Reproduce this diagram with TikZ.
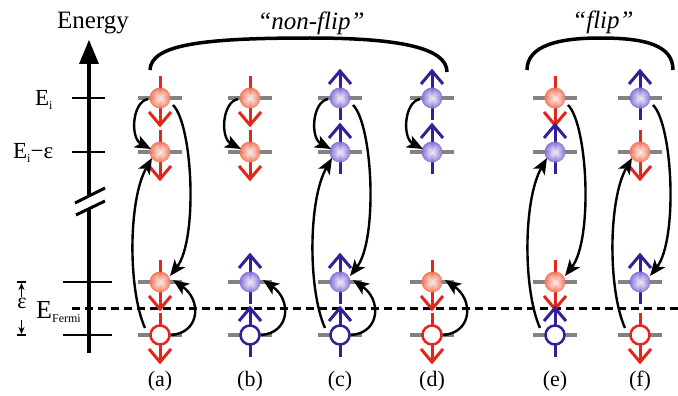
\documentclass[tikz,border=0pt]{standalone}
\usepackage{fontspec}
\setmainfont{Liberation Serif}
\usetikzlibrary{arrows.meta,calc}

\definecolor{spinred}{RGB}{226,38,28}
\definecolor{spinblue}{RGB}{52,32,150}
\definecolor{ballred}{RGB}{242,112,80}
\definecolor{ballblue}{RGB}{130,105,215}
\definecolor{levelgrey}{RGB}{130,130,130}

\tikzset{
  spinline/.style={line width=3pt, line cap=butt, line join=miter},
  levelbar/.style={levelgrey, line width=4.5pt},
  tick/.style={line width=2pt},
  fermi/.style={line width=3pt, dash pattern=on 8pt off 5pt},
  hop/.style={line width=2.4pt, -{Stealth[length=16pt,width=13pt,inset=4pt]}},
  electron/.style={circle, minimum size=21pt, inner sep=0pt},
  redball/.style={electron, inner color=white, outer color=ballred, fill opacity=0.92},
  blueball/.style={electron, inner color=white, outer color=ballblue, fill opacity=0.92},
  hole/.style={circle, minimum size=19pt, inner sep=0pt, fill=white, line width=2.5pt},
  brace/.style={line width=3.5pt},
  biglabel/.style={font=\fontsize{23}{23}\selectfont, inner sep=0pt},
  panel/.style={font=\fontsize{22}{22}\selectfont, inner sep=0pt, anchor=base},
  kind/.style={font=\fontsize{25}{25}\selectfont\itshape, inner sep=0pt, anchor=base}
}

\newcommand\sub[1]{\raisebox{-4pt}{\fontsize{12}{12}\selectfont #1}}

% spin arrows (x, y, colour)
\newcommand\spindn[3]{%
  \draw[spinline,#3] (#1,#2-22) -- (#1,#2+27);
  \draw[spinline,#3] (#1-11,#2+14) -- (#1,#2+27) -- (#1+11,#2+14);}
\newcommand\spinup[3]{%
  \draw[spinline,#3] (#1,#2+22) -- (#1,#2-27);
  \draw[spinline,#3] (#1-11,#2-14) -- (#1,#2-27) -- (#1+11,#2-14);}

% electrons and holes (name, x, y)
\newcommand\eldn[3]{\spindn{#2}{#3}{spinred}\node[redball] (#1) at (#2,#3) {};}
\newcommand\elup[3]{\spinup{#2}{#3}{spinblue}\node[blueball] (#1) at (#2,#3) {};}
\newcommand\holedn[3]{\spindn{#2}{#3}{spinred}\node[hole,draw=spinred] (#1) at (#2,#3) {};}
\newcommand\holeup[3]{\spinup{#2}{#3}{spinblue}\node[hole,draw=spinblue] (#1) at (#2,#3) {};}

% transitions within one column (column letter)
\newcommand\hopshort[1]{\draw[hop] ($(#11)+(-12,1)$) .. controls ($(#11)+(-28,4)$) and ($(#12)+(-30,-14)$) .. ($(#12)+(-9,-3)$);}
\newcommand\hopfermi[1]{\draw[hop] ($(#14)+(11,0)$) .. controls ($(#14)+(40,-2)$) and ($(#13)+(42,18)$) .. ($(#13)+(13,-2)$);}
\newcommand\hopdown[1]{\draw[hop] ($(#11)+(13,7)$) .. controls ($(#11)+(33,27)$) and ($(#13)+(38,-42)$) .. ($(#13)+(10,-6)$);}
\newcommand\hopup[1]{\draw[hop] ($(#14)+(-15,-7)$) .. controls ($(#14)+(-32,-45)$) and ($(#12)+(-32,48)$) .. ($(#12)+(-8,6)$);}

\begin{document}
\begin{tikzpicture}[x=1pt,y=-1pt]
\useasboundingbox (0,0) rectangle (678,396);

% energy axis with break
\fill (89,40) -- (99,64) -- (79,64) -- cycle;
\draw[line width=4pt] (89,62) -- (89,196);
\draw[line width=4pt] (89,208) -- (89,353);
\draw[line width=3pt] (75,203) -- (105,188);
\draw[line width=3pt] (76,215) -- (105,201);
\node[font=\fontsize{25}{25}\selectfont, inner sep=0pt, anchor=base] (energy) at (93,29) {Energy};

% axis ticks and level labels
\draw[tick] (72,98) -- (105,98);
\draw[tick] (72,152) -- (105,152);
\draw[tick] (63,282) -- (112,282);
\draw[tick] (63,335) -- (112,335);
\node[biglabel, anchor=base west] (ei) at (35,106) {E\sub{i}};
\node[biglabel, anchor=base west] (eie) at (13,158) {E\sub{i}−ε};
\node[font=\fontsize{26}{26}\selectfont, inner sep=0pt, anchor=base west] (ef) at (36,318) {E\sub{Fermi}};

% width of the Fermi window
\draw[line width=1.5pt] (17,282) -- (26,282);
\draw[line width=1.5pt] (17,335) -- (26,335);
\draw[line width=1.5pt, -{Stealth[length=7pt,width=6pt]}] (21.5,297) -- (21.5,283);
\draw[line width=1.5pt, -{Stealth[length=7pt,width=6pt]}] (21.5,320) -- (21.5,334);
\node[font=\fontsize{22}{22}\selectfont, inner sep=0pt, anchor=base] (eps) at (22,308) {ε};

% Fermi level
\draw[fermi] (72,308) -- (678,308);

% energy levels of each panel
\foreach \cx in {160,250,340,432,555,640}
  \foreach \ly in {98,152,282,335}
    \draw[levelbar] (\cx-22,\ly) -- (\cx+22,\ly);

% panel (a)
\eldn{a1}{160}{98} \eldn{a2}{160}{152} \eldn{a3}{160}{282} \holedn{a4}{160}{335}
% panel (b)
\eldn{b1}{250}{98} \eldn{b2}{250}{152} \elup{b3}{250}{282} \holeup{b4}{250}{335}
% panel (c)
\elup{c1}{340}{98} \elup{c2}{340}{152} \elup{c3}{340}{282} \holeup{c4}{340}{335}
% panel (d)
\elup{d1}{432}{98} \elup{d2}{432}{152} \eldn{d3}{432}{282} \holedn{d4}{432}{335}
% panel (e)
\eldn{e1}{555}{98} \elup{e2}{555}{152} \eldn{e3}{555}{282} \holeup{e4}{555}{335}
% panel (f)
\elup{f1}{640}{98} \eldn{f2}{640}{152} \elup{f3}{640}{282} \holedn{f4}{640}{335}

% transitions
\hopshort{a} \hopshort{b} \hopshort{c} \hopshort{d}
\hopfermi{a} \hopfermi{b} \hopfermi{c} \hopfermi{d}
\hopdown{a} \hopdown{c} \hopdown{e} \hopdown{f}
\hopup{a} \hopup{c} \hopup{e} \hopup{f}

% groupings
\draw[brace] (150,70) .. controls (151,45) and (200,38) .. (310,38)
             .. controls (400,38) and (447,48) .. (447,72);
\draw[brace] (527,70) .. controls (527,45) and (560,38) .. (600,38)
             .. controls (645,38) and (673,45) .. (673,70);
\node[kind] (nonflip) at (311,30) {“non-flip”};
\node[kind] (flip) at (603,29) {“flip”};

% panel labels
\node[panel] (la) at (160,386) {(a)};
\node[panel] (lb) at (250,386) {(b)};
\node[panel] (lc) at (340,386) {(c)};
\node[panel] (ld) at (432,386) {(d)};
\node[panel] (le) at (555,386) {(e)};
\node[panel] (lf) at (640,386) {(f)};
\end{tikzpicture}
\end{document}
